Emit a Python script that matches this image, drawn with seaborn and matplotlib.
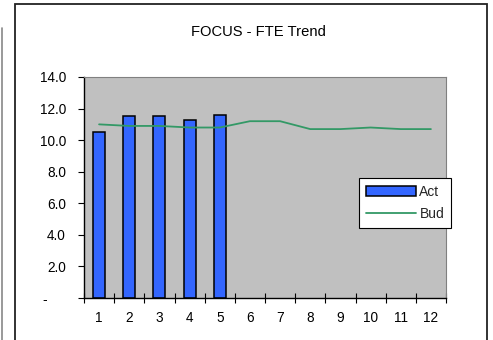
import numpy as np
import pandas as pd
import matplotlib
matplotlib.use("Agg")
import matplotlib.pyplot as plt
from matplotlib.patches import Rectangle
from matplotlib.lines import Line2D
import seaborn as sns

# Monthly FTE figures
months = [str(m) for m in range(1, 13)]
act = [10.5, 11.5, 11.5, 11.3, 11.6, np.nan, np.nan, np.nan, np.nan, np.nan, np.nan, np.nan]
bud = [11.0, 10.9, 10.9, 10.8, 10.8, 11.2, 11.2, 10.7, 10.7, 10.8, 10.7, 10.7]
y_ticks = [0, 2, 4, 6, 8, 10, 12, 14]
y_tick_labels = ["-     ", "2.0", "4.0", "6.0", "8.0", "10.0", "12.0", "14.0"]
title = "FOCUS - FTE Trend"

df = pd.DataFrame({"month": months, "Act": act, "Bud": bud, "pos": np.arange(len(months))})

sns.set_theme(style="white")
plt.rcParams["font.family"] = ["Liberation Sans", "DejaVu Sans"]

W, H = 493, 340
fig = plt.figure(figsize=(W / 100, H / 100), dpi=100)
ax = fig.add_axes([84 / W, 1 - 298 / H, 362 / W, 221 / H])
ax.set_facecolor("#C0C0C0")

sns.barplot(data=df, x="month", y="Act", order=months, color="#3366FF",
            saturation=1, width=0.4, edgecolor="black", linewidth=1.1,
            ax=ax, label="Act")
sns.lineplot(data=df, x="pos", y="Bud", color="#339966", linewidth=1.3,
             ax=ax, label="Bud")

ax.set_xlim(-0.5, 11.5)
ax.set_ylim(0, 14)
ax.set_xlabel("")
ax.set_ylabel("")

ax.set_xticks(range(12))
ax.set_xticklabels(months)
ax.set_xticks(np.arange(-0.5, 12, 1), minor=True)
ax.tick_params(axis="x", which="major", length=0, pad=9.5, labelsize=9.8, colors="black")
ax.tick_params(axis="x", which="minor", direction="inout", length=7, width=0.8,
               color="black", bottom=True)
ax.set_yticks(y_ticks)
ax.set_yticklabels(y_tick_labels)
ax.tick_params(axis="y", which="major", direction="out", length=4, width=0.8,
               color="black", left=True, pad=9, labelsize=9.8, labelcolor="black")

for s in ["left", "bottom"]:
    ax.spines[s].set_color("black")
    ax.spines[s].set_linewidth(1.0)
for s in ["top", "right"]:
    ax.spines[s].set_color("#808080")
    ax.spines[s].set_linewidth(0.8)
ax.grid(False)

fig.text(258 / W, 1 - 32 / H, title, ha="center", va="center", fontsize=10.6, color="black")

handles = [Rectangle((0, 0), 1, 1, facecolor="#3366FF", edgecolor="black", linewidth=1.1),
           Line2D([], [], color="#339966", linewidth=1.3)]
leg = ax.legend(handles, ["Act", "Bud"], loc="upper left",
                bbox_to_anchor=(359 / W, 1 - 178 / H), bbox_transform=fig.transFigure,
                fontsize=10, handlelength=3.6, handletextpad=0.25, borderpad=0.5,
                labelspacing=0.6, frameon=True, fancybox=False, framealpha=1,
                borderaxespad=0)
leg.get_frame().set_edgecolor("black")
leg.get_frame().set_linewidth(0.8)

# Surrounding chart frame and left page rule
fig.patches.append(Rectangle((15 / W, -0.05), (487 - 15) / W, 1.05 - 4.5 / H,
                             transform=fig.transFigure, fill=False,
                             edgecolor="#222222", linewidth=1.3))
fig.lines.append(Line2D([1.5 / W, 1.5 / W], [0, 1 - 28 / H], transform=fig.transFigure,
                        color="#888888", linewidth=1.2))

fig.savefig("out.png", dpi=100)
